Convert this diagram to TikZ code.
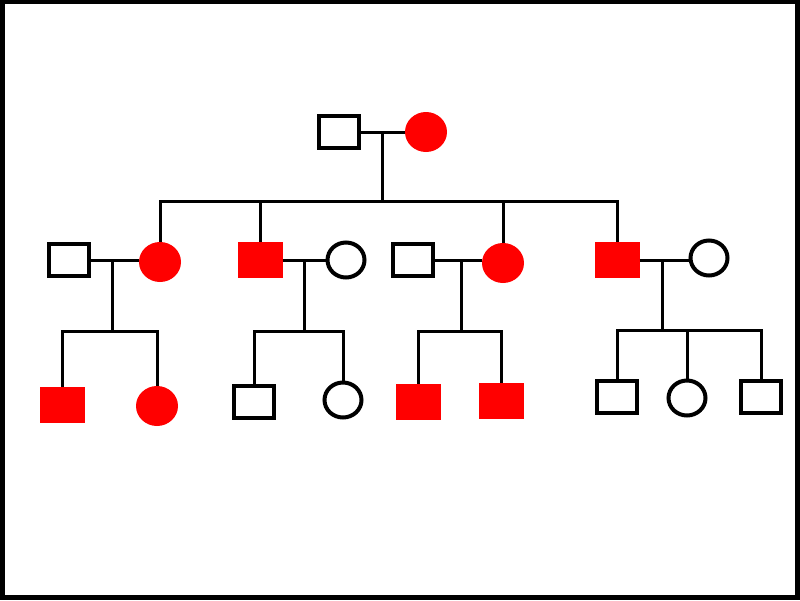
\documentclass[tikz,border=0pt]{standalone}
\usetikzlibrary{shapes.geometric}

\begin{document}
\begin{tikzpicture}[
    x=1pt, y=-1pt,
    line width=3pt,
    male/.style={rectangle, draw, line width=4pt, minimum width=40pt, minimum height=32pt, inner sep=0pt},
    female/.style={ellipse, draw, line width=4pt, minimum width=37pt, minimum height=35pt, inner sep=0pt},
    affmale/.style={rectangle, fill=red, minimum width=45pt, minimum height=36pt, inner sep=0pt, outer sep=0pt},
    afffemale/.style={ellipse, fill=red, minimum width=42pt, minimum height=40pt, inner sep=0pt, outer sep=0pt}
]
    % Frame
    \useasboundingbox (0,0) rectangle (800,600);
    \draw[line width=4.5pt] (2.25,1.8) rectangle (797.5,597.5);

    % Generation I
    \node[male] (gf) at (339,132) {};
    \node[afffemale] (gm) at (426,132) {};
    \draw (gf) -- (gm);
    \coordinate (m0) at (382,132);
    \coordinate (s0) at (382,201);
    \draw (m0) -- (s0);

    % Generation II
    \node[male] (h1) at (69,260) {};
    \node[afffemale] (d1) at (160,262) {};
    \node[affmale] (s2) at (260,260) {};
    \node[female] (w2) at (346,260) {};
    \node[male] (h3) at (413,260) {};
    \node[afffemale] (d3) at (503,263) {};
    \node[affmale] (s4) at (617,260) {};
    \node[female] (w4) at (709,258) {};

    % sibship of generation II
    \draw (s0) -| (d1.north);
    \draw (s0) -| (s2.north);
    \draw (s0) -| (d3.north);
    \draw (s0) -| (s4.north);

    % Couples
    \draw (h1) -- (h1 -| d1.west);
    \draw (s2) -- (w2);
    \draw (h3) -- (h3 -| d3.west);
    \draw (s4) -- (s4 -| w4.west);

    \coordinate (m1) at (112,260);
    \coordinate (m2) at (304,260);
    \coordinate (m3) at (461,260);
    \coordinate (m4) at (662,260);
    \coordinate (b1) at (112,331);
    \coordinate (b2) at (304,331);
    \coordinate (b3) at (461,331);
    \coordinate (b4) at (662,330);
    \draw (m1) -- (b1);
    \draw (m2) -- (b2);
    \draw (m3) -- (b3);
    \draw (m4) -- (b4);

    % Generation III
    \node[affmale] (c11) at (62,405) {};
    \node[afffemale] (c12) at (157,406) {};
    \node[male] (c21) at (254,402) {};
    \node[female] (c22) at (343,400) {};
    \node[affmale] (c31) at (418,402) {};
    \node[affmale] (c32) at (501,401) {};
    \node[male] (c41) at (617,397) {};
    \node[female] (c42) at (687,398) {};
    \node[male] (c43) at (761,397) {};

    \draw (b1) -| (c11.north);
    \draw (b1) -| (c12.north);
    \draw (b2) -| (c21.north);
    \draw (b2) -| (c22.north);
    \draw (b3) -| (c31.north);
    \draw (b3) -| (c32.north);
    \draw (b4) -| (c41.north);
    \draw (b4) -| (c42.north);
    \draw (b4) -| (c43.north);
\end{tikzpicture}
\end{document}
